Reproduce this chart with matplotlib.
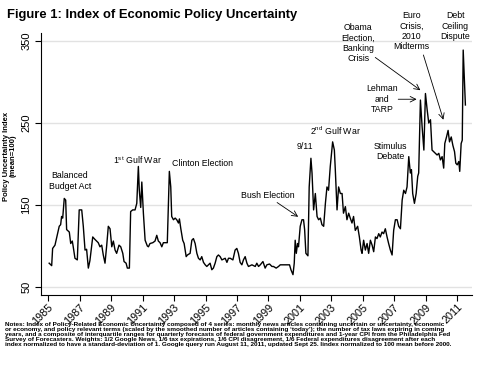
import matplotlib
matplotlib.use('Agg')
import matplotlib.pyplot as plt

# decimal year / index value
years = [
    1985.06, 1985.22, 1985.28, 1985.43, 1985.57, 1985.70, 1985.79, 1985.85, 1985.92, 1986.02,
    1986.11, 1986.17, 1986.34, 1986.43, 1986.53, 1986.59, 1986.70, 1986.85, 1986.97, 1987.13,
    1987.23, 1987.34, 1987.44, 1987.55, 1987.65, 1987.83, 1987.97, 1988.18, 1988.29, 1988.40,
    1988.50, 1988.61, 1988.72, 1988.82, 1988.93, 1989.04, 1989.14, 1989.25, 1989.35, 1989.50,
    1989.61, 1989.74, 1989.82, 1989.95, 1990.03, 1990.16, 1990.24, 1990.37, 1990.52, 1990.63,
    1990.73, 1990.79, 1990.88, 1990.95, 1991.05, 1991.16, 1991.30, 1991.37, 1991.47, 1991.65,
    1991.79, 1991.90, 1992.00, 1992.11, 1992.22, 1992.32, 1992.49, 1992.57, 1992.70, 1992.79,
    1992.85, 1992.96, 1993.07, 1993.17, 1993.28, 1993.34, 1993.43, 1993.55, 1993.64, 1993.77,
    1993.85, 1994.02, 1994.13, 1994.23, 1994.34, 1994.45, 1994.55, 1994.66, 1994.76, 1994.87,
    1994.98, 1995.08, 1995.29, 1995.40, 1995.50, 1995.61, 1995.72, 1995.82, 1995.93, 1996.04,
    1996.25, 1996.36, 1996.46, 1996.57, 1996.74, 1996.88, 1996.99, 1997.09, 1997.20, 1997.31,
    1997.41, 1997.52, 1997.63, 1997.73, 1997.95, 1998.16, 1998.26, 1998.37, 1998.48, 1998.65,
    1998.79, 1998.90, 1999.07, 1999.22, 1999.32, 1999.49, 1999.64, 1999.75, 1999.96, 2000.18,
    2000.34, 2000.43, 2000.56, 2000.64, 2000.70, 2000.77, 2000.85, 2000.91, 2001.02, 2001.13,
    2001.23, 2001.30, 2001.38, 2001.51, 2001.59, 2001.70, 2001.77, 2001.87, 2001.98, 2002.09,
    2002.19, 2002.30, 2002.40, 2002.51, 2002.62, 2002.72, 2002.82, 2002.93, 2003.08, 2003.19,
    2003.25, 2003.36, 2003.46, 2003.57, 2003.68, 2003.77, 2003.89, 2003.99, 2004.10, 2004.20,
    2004.31, 2004.41, 2004.52, 2004.67, 2004.78, 2004.89, 2004.95, 2005.05, 2005.16, 2005.27,
    2005.37, 2005.48, 2005.59, 2005.69, 2005.80, 2005.90, 2006.01, 2006.11, 2006.22, 2006.32,
    2006.43, 2006.54, 2006.64, 2006.75, 2006.86, 2006.96, 2007.07, 2007.18, 2007.28, 2007.39,
    2007.50, 2007.60, 2007.71, 2007.81, 2007.92, 2008.02, 2008.09, 2008.17, 2008.28, 2008.39,
    2008.49, 2008.55, 2008.66, 2008.77, 2008.88, 2008.98, 2009.09, 2009.19, 2009.30, 2009.40,
    2009.51, 2009.62, 2009.72, 2009.83, 2009.93, 2010.04, 2010.14, 2010.21, 2010.32, 2010.42,
    2010.51, 2010.62, 2010.72, 2010.83, 2010.91, 2011.00, 2011.10, 2011.16, 2011.25, 2011.32,
    2011.38, 2011.46, 2011.52,
]
index_vals = [
    79, 76, 97, 101, 113, 124, 126, 136, 134, 158,
    156, 120, 117, 103, 106, 99, 85, 83, 144, 144,
    124, 95, 96, 73, 82, 111, 108, 104, 99, 101,
    89, 79, 101, 124, 121, 99, 106, 95, 91, 101,
    99, 91, 81, 79, 73, 73, 142, 144, 144, 152,
    197, 168, 147, 178, 140, 107, 100, 99, 103, 104,
    106, 113, 106, 104, 99, 104, 104, 104, 191, 172,
    136, 132, 134, 132, 128, 133, 121, 107, 103, 87,
    89, 91, 107, 109, 103, 91, 85, 83, 87, 80,
    77, 75, 79, 71, 73, 79, 87, 89, 87, 83,
    85, 80, 85, 85, 83, 95, 97, 91, 80, 77,
    83, 87, 79, 75, 77, 75, 79, 75, 77, 81,
    73, 77, 78, 75, 75, 73, 75, 77, 77, 77,
    77, 71, 65, 79, 107, 91, 103, 99, 124, 132,
    132, 120, 91, 88, 172, 207, 189, 144, 164, 136,
    132, 134, 126, 124, 152, 172, 168, 197, 227, 217,
    193, 144, 172, 164, 164, 140, 148, 132, 140, 134,
    128, 136, 119, 124, 111, 95, 91, 107, 95, 103,
    91, 107, 101, 93, 111, 109, 115, 111, 117, 115,
    121, 111, 103, 95, 89, 119, 132, 132, 124, 121,
    156, 168, 164, 172, 209, 189, 193, 164, 152, 164,
    185, 189, 278, 245, 217, 286, 266, 250, 254, 217,
    215, 213, 211, 213, 205, 209, 195, 225, 233, 241,
    227, 233, 223, 215, 201, 199, 203, 191, 225, 229,
    339, 302, 272,
]

tick_years = list(range(1985, 2012, 2))
tick_vals = [50, 150, 250, 350]

title = 'Figure 1: Index of Economic Policy Uncertainty'
notes = ('Notes: Index of Policy-Related Economic Uncertainty composed of 4 series: monthly news articles containing uncertain or uncertainty, economic\n'
         'or economy, and policy relevant terms (scaled by the smoothed number of articles containing \u2018today\u2019); the number of tax laws expiring in coming\n'
         'years, and a composite of interquartile ranges for quarterly forecasts of federal government expenditures and 1-year CPI from the Philadelphia Fed\n'
         'Survey of Forecasters. Weights: 1/2 Google News, 1/6 tax expirations, 1/6 CPI disagreement, 1/6 Federal expenditures disagreement after each\n'
         'index normalized to have a standard-deviation of 1. Google query run August 11, 2011, updated Sept 25. Iindex normalized to 100 mean before 2000.')

plt.rcParams['font.family'] = ['Liberation Sans', 'DejaVu Sans']

fig = plt.figure(figsize=(4.81, 3.68), dpi=100)
ax = fig.add_axes([0.0852, 0.1984, 0.8961, 0.7119])

ax.plot(years, index_vals, color='black', lw=1.0)

ax.set_xlim(1984.54, 2011.94)
ax.set_ylim(40.2, 359.8)
ax.set_xticks(tick_years)
ax.set_xticklabels([str(y) for y in tick_years], rotation=45, ha='right',
                   rotation_mode='anchor', fontsize=7.8)
ax.set_yticks(tick_vals)
ax.set_yticklabels([str(v) for v in tick_vals], rotation=90, va='center', fontsize=8)
ax.tick_params(axis='x', length=4, width=0.8, pad=1)
ax.tick_params(axis='y', length=4, width=0.8, pad=3)
for v in tick_vals:
    ax.axhline(v, color='#e2e2e2', lw=1.0, zorder=0)

for s in ['top', 'right']:
    ax.spines[s].set_visible(False)
ax.spines['left'].set_linewidth(0.8)
ax.spines['bottom'].set_linewidth(0.8)

ax.set_ylabel('Policy Uncertainty Index\n(mean=100)', fontsize=5.5, fontweight='bold', linespacing=1.0)
ax.yaxis.set_label_coords(-0.056, 0.53)

# event labels
fs = 6.3
ax.text(1986.38, 179.5, 'Balanced\nBudget Act', fontsize=fs, ha='center', va='center')
ax.text(1990.65, 205, '1$^{\\mathregular{st}}$ Gulf War', fontsize=fs, ha='center', va='center')
ax.text(1994.78, 201, 'Clinton Election', fontsize=fs, ha='center', va='center')
ax.text(1998.98, 162, 'Bush Election', fontsize=fs, ha='center', va='center')
ax.text(2001.34, 221, '9/11', fontsize=fs, ha='center', va='center')
ax.text(2003.25, 240, '2$^{\\mathregular{nd}}$ Gulf War', fontsize=fs, ha='center', va='center')
ax.text(2006.75, 215, 'Stimulus\nDebate', fontsize=fs, ha='center', va='center')
ax.text(2006.24, 279, 'Lehman\nand\nTARP', fontsize=fs, ha='center', va='center')
ax.text(2004.71, 347.5, 'Obama\nElection,\nBanking\nCrisis', fontsize=fs, ha='center', va='center')
ax.text(2008.09, 362, 'Euro\nCrisis,\n2010\nMidterms', fontsize=fs, ha='center', va='center')
ax.text(2010.88, 368, 'Debt\nCeiling\nDispute', fontsize=fs, ha='center', va='center')

arrow = dict(arrowstyle='->', lw=0.6, color='black', shrinkA=0, shrinkB=0)
ax.annotate('', xy=(2000.89, 135.6), xytext=(1999.55, 153), arrowprops=arrow)
ax.annotate('', xy=(2008.42, 279), xytext=(2007.25, 279), arrowprops=arrow)
ax.annotate('', xy=(2008.66, 290), xytext=(2005.79, 330), arrowprops=arrow)
ax.annotate('', xy=(2010.12, 254), xytext=(2008.85, 333), arrowprops=arrow)

fig.text(0.0146, 0.959, title, fontsize=9.4, fontweight='bold', ha='left', va='center')
fig.text(0.0104, 0.124, notes, fontsize=4.55, fontweight='bold', ha='left', va='top', linespacing=0.98)

fig.savefig('out.png', dpi=100)
plt.close(fig)
